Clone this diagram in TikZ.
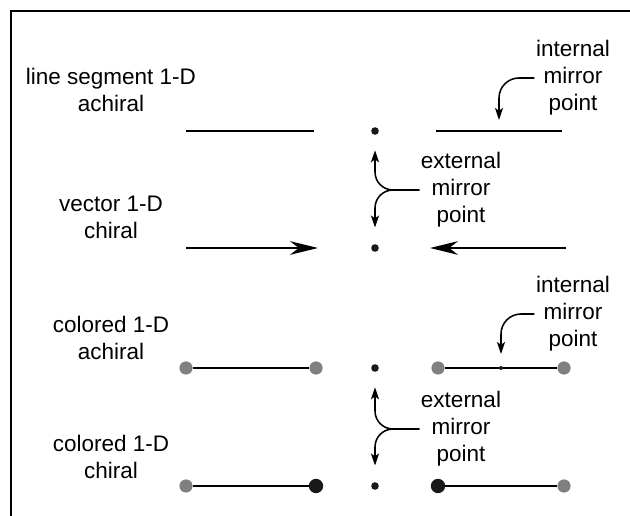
\documentclass[tikz,border=0pt]{standalone}
\usepackage{fontspec}
\setmainfont{Liberation Sans}
\usetikzlibrary{arrows.meta, positioning}

\begin{document}
\begin{tikzpicture}[
  font=\fontsize{16}{19.2}\selectfont,
  seg/.style={line width=1.4pt},
  vec/.style={line width=1.4pt, -{Stealth[length=0.7cm, width=0.34cm, inset=0.22cm]}},
  bent/.style={line width=1.1pt, -{Stealth[length=0.3cm, width=0.2cm, inset=0.07cm]}},
  dot/.style={circle, fill=black!90, inner sep=0pt, minimum size=0.19cm},
  tinydot/.style={dot, minimum size=0.1cm},
  greyend/.style={circle, fill=gray, inner sep=0pt, minimum size=0.33cm},
  blackend/.style={circle, fill=black!90, inner sep=0pt, minimum size=0.36cm},
  lbl/.style={align=center, inner sep=1pt}
]

\useasboundingbox (0,0) rectangle (15.75,12.9);
\draw[line width=1pt] (15.75,12.625) -- (0.275,12.625) -- (0.275,0);

% row names
\node[lbl] (segname) at (2.775,10.64) {line segment 1-D\\achiral};
\node[lbl] (vecname) at (2.775,7.475) {vector 1-D\\chiral};
\node[lbl] (colname) at (2.775,4.46) {colored 1-D\\achiral};
\node[lbl] (chiname) at (2.775,1.475) {colored 1-D\\chiral};

% external mirror points
\foreach \n/\y in {c1/9.625, c2/6.7, c3/3.7, c4/0.75}
	\node[dot] (\n) at (9.375,\y) {};

% line segments
\draw[seg] (4.65,9.625) -- (7.85,9.625);
\draw[seg] (10.9,9.625) -- coordinate (m1) (14.05,9.625);

% vectors
\draw[vec] (4.65,6.7) -- (7.95,6.7);
\draw[vec] (14.15,6.7) -- (10.75,6.7);

% colored segments
\node[greyend] (g1) at (4.65,3.7) {};
\node[greyend] (g2) at (7.9,3.7) {};
\node[greyend] (g3) at (10.95,3.7) {};
\node[greyend] (g4) at (14.1,3.7) {};
\draw[seg] (g1) -- (g2);
\draw[seg] (g3) -- node[tinydot] (m3) {} (g4);

\node[greyend] (h1) at (4.65,0.75) {};
\node[blackend] (h2) at (7.9,0.75) {};
\node[blackend] (h3) at (10.95,0.75) {};
\node[greyend] (h4) at (14.1,0.75) {};
\draw[seg] (h1) -- (h2);
\draw[seg] (h3) -- (h4);

% mirror point labels
\node[lbl] (int1) at (14.325,10.95) {internal\\mirror\\point};
\node[lbl] (ext1) at (11.525,8.15) {external\\mirror\\point};
\node[lbl] (int2) at (14.325,5.05) {internal\\mirror\\point};
\node[lbl] (ext2) at (11.525,2.175) {external\\mirror\\point};

\draw[bent, rounded corners=0.5cm, shorten >=0.275cm] (int1.west) -| (m1);
\draw[bent, rounded corners=0.5cm, shorten >=0.275cm] (int2.west) -| (m3);

\draw[bent, rounded corners=0.45cm, shorten >=0.38cm] (ext1.west) -| (c1);
\draw[bent, rounded corners=0.45cm, shorten >=0.41cm] (ext1.west) -| (c2);
\draw[bent, rounded corners=0.45cm, shorten >=0.38cm] (ext2.west) -| (c3);
\draw[bent, rounded corners=0.45cm, shorten >=0.41cm] (ext2.west) -| (c4);

\end{tikzpicture}
\end{document}
